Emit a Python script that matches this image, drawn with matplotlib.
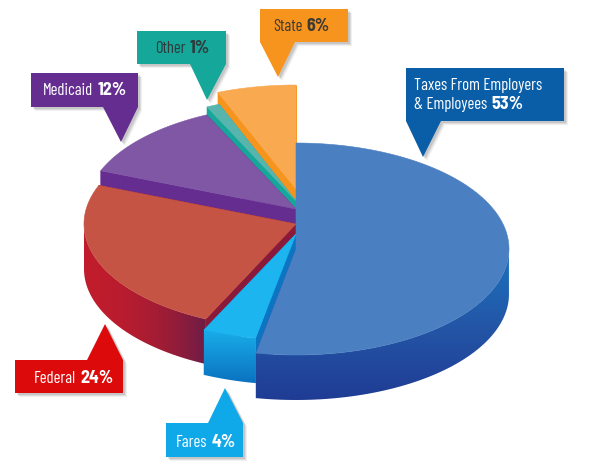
import numpy as np
import matplotlib
matplotlib.use("Agg")
import matplotlib.pyplot as plt
from matplotlib import font_manager
from matplotlib.colors import LinearSegmentedColormap
from matplotlib.patches import Polygon

# Shares, clockwise from 12 o'clock
names = ["Taxes", "Fares", "Federal", "Medicaid", "Other", "State"]
shares = [53, 4, 24, 12, 1, 6]

# Colours for each slice
top_colors = ["#4a7fc1", "#1cb5ef", "#c65445", "#7f57a5", "#57b5ad", "#f9a94f"]
cut_colors = ["#1f3f98", "#0b75c4", "#8b1a3a", "#662d91", "#14a79a", "#f7941d"]
side_colors = [
    ["#1873bf", "#2456a6", "#1f3c94"],
    ["#19aeea", "#0b72c0"],
    ["#c01c2c", "#6f1d45"],
    ["#662d91", "#662d91"],
    ["#14a79a", "#14a79a"],
    ["#f7941d", "#f7941d"],
]

# Where each slice sits on the page (pixels): centre y, radii
center_x = 296
center_y = [249, 234, 224, 209, 201, 189]
radius_x = [213, 216, 212, 210, 209, 212]
radius_y = [106, 106, 105, 104, 104, 104]
depth = 45
draw_order = [5, 4, 3, 2, 1, 0]

# Callouts: text, bold text, colours, box, tail, text position
labels = [
    (["Taxes From Employers", "& Employees"], "53%", "#0a5ea8", "white",
     (406, 564, 68, 121), (406, 441, 423, 157), (414, 90)),
    (["State"], "6%", "#f7941d", "#3d3a35",
     (260, 348, 9, 42), (260, 295, 278, 77), (273, 31)),
    (["Other"], "1%", "#14a79a", "#2f3a3a",
     (137, 226, 31, 64), (190, 226, 207, 100), (155, 53)),
    (["Medicaid"], "12%", "#662d91", "white",
     (31, 138, 73, 107), (103, 138, 121, 142), (43, 95)),
    (["Federal"], "24%", "#dc0a0a", "white",
     (15, 123, 360, 393), (87, 123, 105, 324), (34, 383)),
    (["Fares"], "4%", "#0fa8e8", "white",
     (166, 243, 423, 457), (208, 243, 225, 388), (176, 447)),
]

# condensed faces if there are any, otherwise Roboto at a smaller size
installed = {f.name for f in font_manager.fontManager.ttflist}
label_font, label_size = "Roboto", 9.5
bold_font, bold_size = "Roboto", 11
if "Barlow Condensed" in installed:
    label_font, label_size = "Barlow Condensed", 12
    bold_font, bold_size = "Barlow Condensed", 14
if "Barlow Semi Condensed" in installed:
    bold_font, bold_size = "Barlow Semi Condensed", 13


def arc_points(i, start, end):
    t = np.radians(np.linspace(start, end, 120))
    return np.column_stack([center_x + radius_x[i] * np.sin(t),
                            center_y[i] - radius_y[i] * np.cos(t)])


def draw_slice(ax, i, start, end):
    arc = arc_points(i, start, end)
    apex = np.array([center_x, center_y[i]])
    down = np.array([0, depth])

    # cut faces
    for p in (arc[0], arc[-1]):
        ax.add_patch(Polygon([apex, p, p + down, apex + down],
                             fc=cut_colors[i], ec=cut_colors[i], lw=0.4))

    # outer side with a gradient, only the front half of the ellipse shows
    front = arc[(arc[:, 1] >= center_y[i])]
    if len(front) > 1:
        shape = np.vstack([front, (front + down)[::-1]])
        clip = Polygon(shape, fc="none", ec="none")
        ax.add_patch(clip)
        cmap = LinearSegmentedColormap.from_list("s", side_colors[i])
        x0, x1 = shape[:, 0].min(), shape[:, 0].max()
        y0, y1 = shape[:, 1].min(), shape[:, 1].max()
        if names[i] == "Federal":
            grad = np.linspace(0, 1, 128).reshape(1, -1) ** 2
        else:
            grad = np.linspace(0, 1, 128).reshape(-1, 1)
        im = ax.imshow(grad, cmap=cmap, extent=(x0, x1, y1, y0), aspect="auto",
                       vmin=0, vmax=1, zorder=1)
        im.set_clip_path(clip)

    # top face
    ax.add_patch(Polygon(np.vstack([apex, arc]), fc=top_colors[i],
                         ec=top_colors[i], lw=0.4))


def draw_label(ax, lines, bold, color, text_color, box, tail, pos):
    left, right, top, bottom = box
    base0, base1, tip_x, tip_y = tail
    if tip_y > bottom:
        pts = [(left, top), (right, top), (right, bottom), (base1, bottom),
               (tip_x, tip_y), (base0, bottom), (left, bottom)]
    else:
        pts = [(left, top), (base0, top), (tip_x, tip_y), (base1, top),
               (right, top), (right, bottom), (left, bottom)]
    pts = np.array(pts, dtype=float)

    # soft shadow
    for off, alpha in [(4, 0.06), (3, 0.08), (2, 0.10)]:
        ax.add_patch(Polygon(pts + off, fc="black", ec="none", alpha=alpha))
    ax.add_patch(Polygon(pts, fc=color, ec="none"))

    x, y = pos
    for n, line in enumerate(lines):
        t = ax.text(x, y + n * 19, line, color=text_color, fontsize=label_size,
                    family=label_font, va="baseline", ha="left")
    # bold part sits right after the last line, same baseline
    box_px = t.get_window_extent(fig.canvas.get_renderer())
    end_x = ax.transData.inverted().transform((box_px.x1, box_px.y0))[0]
    ax.text(end_x + 4, y + (len(lines) - 1) * 19, bold, color=text_color,
            fontsize=bold_size, fontweight="bold", family=bold_font,
            va="baseline", ha="left")


fig = plt.figure(figsize=(6, 4.71), dpi=100)
ax = fig.add_axes([0, 0, 1, 1])
ax.set_xlim(0, 600)
ax.set_ylim(471, 0)

edges = np.cumsum([0] + shares) * 360 / sum(shares)
for i in draw_order:
    draw_slice(ax, i, edges[i], edges[i + 1])

ax.set_xlim(0, 600)
ax.set_ylim(471, 0)
for lines, bold, color, text_color, box, tail, pos in labels:
    draw_label(ax, lines, bold, color, text_color, box, tail, pos)

ax.axis("off")
fig.savefig("out.png", dpi=100)
